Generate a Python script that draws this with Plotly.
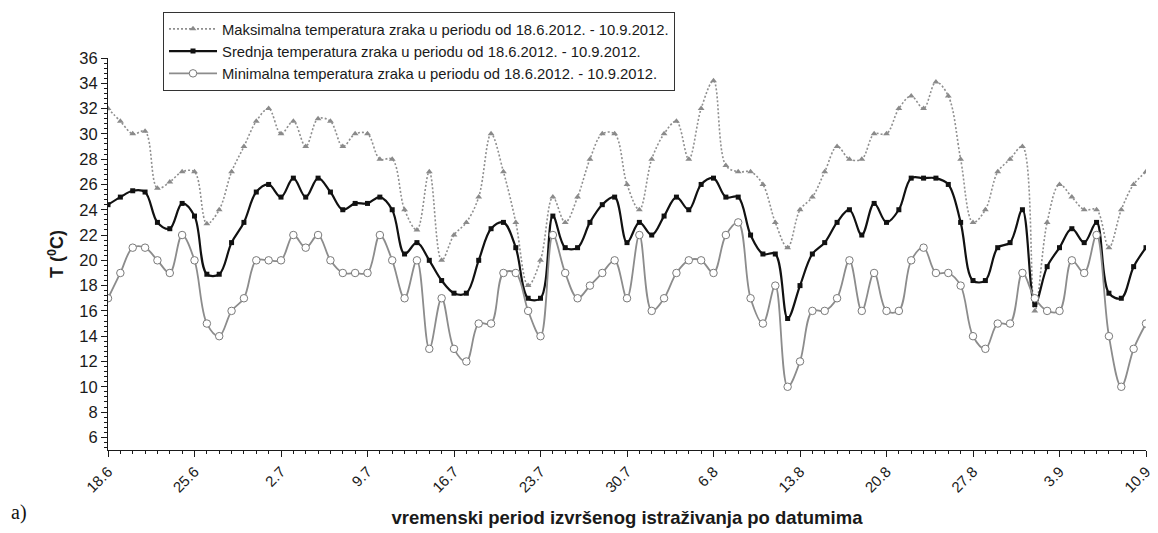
import pandas as pd
import plotly.graph_objects as go

# Daily air temperatures, 18.6.2012 - 10.9.2012 (°C)
t_max = [32, 31, 30, 30.2, 25.7, 26.2, 27, 27, 22.9, 24, 27, 29, 31, 32,
         30, 31, 29, 31.2, 31, 29, 30, 30, 28, 28, 24, 22.4, 27, 20,
         22, 23, 25, 30, 27, 23, 18, 20, 25, 23, 25, 28, 30, 30,
         26, 24, 28, 30, 31, 28, 32, 34.2, 27.5, 27, 27, 26, 23, 21,
         24, 25, 27, 29, 28, 28, 30, 30, 32, 33, 32, 34.1, 33, 28,
         23, 24, 27, 28, 29, 16, 23, 26, 25, 24, 24, 21, 24, 26, 27]
t_mean = [24.4, 25, 25.5, 25.4, 23, 22.5, 24.5, 23.5, 18.9, 18.9, 21.4, 23, 25.4, 26,
          25, 26.5, 25, 26.5, 25.4, 24, 24.5, 24.5, 25, 24, 20.5, 21.4, 20, 18.4,
          17.4, 17.4, 20, 22.5, 23, 21, 17, 17, 23.5, 21, 21, 23, 24.4, 25,
          21.4, 23, 22, 23.5, 25, 24, 26, 26.5, 25, 25, 22, 20.5, 20.5, 15.4,
          18, 20.5, 21.4, 23, 24, 22, 24.5, 23, 24, 26.5, 26.5, 26.5, 26, 23,
          18.4, 18.4, 21, 21.4, 24, 16.5, 19.5, 21, 22.5, 21.4, 23, 17.4, 17, 19.5, 21]
t_min = [17, 19, 21, 21, 20, 19, 22, 20, 15, 14, 16, 17, 20, 20,
         20, 22, 21, 22, 20, 19, 19, 19, 22, 20, 17, 20, 13, 17,
         13, 12, 15, 15, 19, 19, 16, 14, 22, 19, 17, 18, 19, 20,
         17, 22, 16, 17, 19, 20, 20, 19, 22, 23, 17, 15, 18, 10,
         12, 16, 16, 17, 20, 16, 19, 16, 16, 20, 21, 19, 19, 18,
         14, 13, 15, 15, 19, 17, 16, 16, 20, 19, 22, 14, 10, 13, 15]

tick_labels = ["18.6", "25.6", "2.7", "9.7", "16.7", "23.7", "30.7",
               "6.8", "13.8", "20.8", "27.8", "3.9", "10.9"]

days = pd.date_range("2012-06-18", "2012-09-10", freq="D")
tick_dates = days[::7]

legend_names = [
    "Maksimalna temperatura zraka u periodu od 18.6.2012. - 10.9.2012.",
    "Srednja temperatura zraka u periodu od 18.6.2012. - 10.9.2012.",
    "Minimalna temperatura zraka u periodu od 18.6.2012. - 10.9.2012.",
]

FONT = "Liberation Sans, Arial, sans-serif"
INK = "#1a1a1a"

fig = go.Figure()
fig.add_trace(go.Scatter(
    x=days, y=t_max, name=legend_names[0], mode="lines+markers",
    line=dict(color="#8f8f8f", width=1.6, dash="2px,2px", shape="spline", smoothing=1),
    marker=dict(symbol="triangle-up", size=6, color="#8a8a8a"),
))
fig.add_trace(go.Scatter(
    x=days, y=t_mean, name=legend_names[1], mode="lines+markers",
    line=dict(color="#111111", width=2.2, shape="spline", smoothing=1),
    marker=dict(symbol="square", size=5, color="#111111"),
))
fig.add_trace(go.Scatter(
    x=days, y=t_min, name=legend_names[2], mode="lines+markers",
    line=dict(color="#8c8c8c", width=1.8, shape="spline", smoothing=1),
    marker=dict(symbol="circle", size=7.5, color="white",
                line=dict(color="#7a7a7a", width=1)),
))

fig.update_layout(
    width=1158, height=533,
    margin=dict(l=108, r=12, t=54, b=83),
    paper_bgcolor="white", plot_bgcolor="white",
    font=dict(family=FONT, size=14, color=INK),
    showlegend=True,
    legend=dict(
        x=0.053, y=1.118, xanchor="left", yanchor="top",
        bordercolor="#333", borderwidth=1, bgcolor="white",
        font=dict(family=FONT, size=14.8, color=INK),
        tracegroupgap=0, itemwidth=48,
    ),
    xaxis=dict(
        range=[days[0], days[-1]], automargin=False,
        tickvals=tick_dates, ticktext=tick_labels, tickangle=-45,
        showgrid=False, zeroline=False,
        showline=True, linecolor=INK, linewidth=1.2,
        ticks="outside", ticklen=6, tickwidth=1.2, tickcolor=INK,
        tickfont=dict(family=FONT, size=15, color=INK),
        minor=dict(tickmode="linear", tick0="2012-06-18", dtick=86400000,
                   ticks="outside", ticklen=3, tickcolor=INK, showgrid=False),
        title=dict(text="<b>vremenski period izvršenog istraživanja po datumima</b>",
                   font=dict(family=FONT, size=18.5, color=INK), standoff=16),
    ),
    yaxis=dict(
        range=[5, 36], tickmode="linear", tick0=6, dtick=2, automargin=False,
        showgrid=False, zeroline=False,
        showline=True, linecolor=INK, linewidth=1.2,
        ticks="outside", ticklen=6, tickwidth=1.2, tickcolor=INK,
        tickfont=dict(family=FONT, size=16.5, color=INK),
        minor=dict(tickmode="linear", tick0=6, dtick=0.4,
                   ticks="outside", ticklen=3, tickcolor=INK, showgrid=False),
        title=dict(text="<b>T (<sup>0</sup>C)</b>",
                   font=dict(family=FONT, size=18, color=INK), standoff=10),
    ),
    annotations=[dict(
        text="a)", xref="paper", yref="paper", x=-0.095, y=-0.16,
        xanchor="left", yanchor="middle", showarrow=False,
        font=dict(family="Liberation Serif, Times New Roman, serif", size=20, color="#111"),
    )],
)

fig.write_html("out.html")
